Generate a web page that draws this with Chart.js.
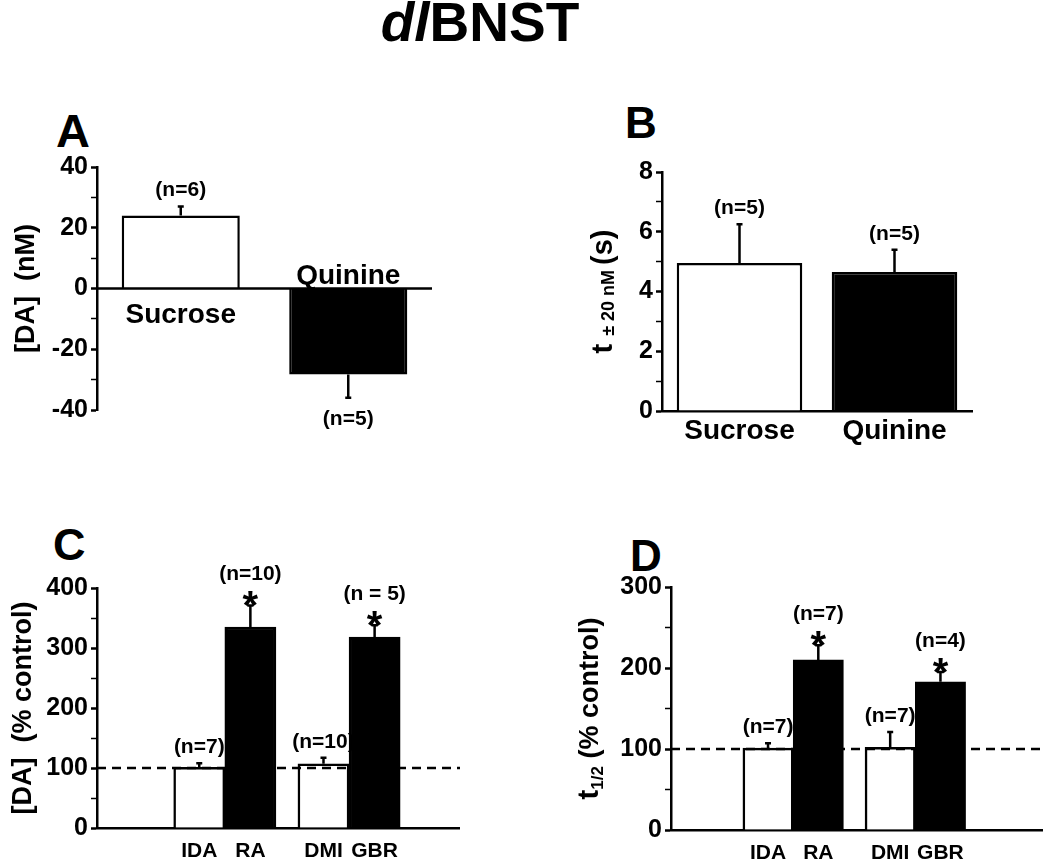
<!DOCTYPE html>
<html>
<head>
<meta charset="utf-8">
<title>dlBNST</title>
<script src="https://cdn.jsdelivr.net/npm/chart.js@4.4.1/dist/chart.umd.min.js"></script>
<style>
  html, body { margin: 0; padding: 0; background: #fff; }
  body { position: relative; width: 1050px; height: 863px; overflow: hidden;
         font-family: "Liberation Sans", Arial, sans-serif; font-weight: bold; color: #000; }
  canvas, .tag { position: absolute; }
  .tag { line-height: 1; }
  #title { position: absolute; left: 0; top: -5px; width: 960px; text-align: center;
           font-size: 55px; line-height: 1; }
</style>
</head>
<body>
<div id="title"><i>dl</i>BNST</div>
<div class="tag" style="left:56px;top:107px;font-size:47px">A</div>
<div class="tag" style="left:625px;top:101px;font-size:44px">B</div>
<div class="tag" style="left:53px;top:522px;font-size:45px">C</div>
<div class="tag" style="left:630px;top:534px;font-size:44px">D</div>
<canvas id="chartA" width="460" height="340" style="left:0;top:100px"></canvas>
<canvas id="chartB" width="530" height="350" style="left:520px;top:100px"></canvas>
<canvas id="chartC" width="460" height="363" style="left:0;top:500px"></canvas>
<canvas id="chartD" width="530" height="363" style="left:520px;top:500px"></canvas>
<script>
// Panel A - peak [DA] change
const tasteCats = ['Sucrose', 'Quinine'];
const daPeak = [24, -28.3];
const daPeakErr = [3, 7.7];
const daPeakN = ['(n=6)', '(n=5)'];

// Panel B - time spent beyond +/- 20 nM
const tHold = [4.95, 4.65];
const tHoldErr = [1.3, 0.75];
const tHoldN = ['(n=5)', '(n=5)'];

// Panels C and D - drug effects, % of control
const drugCats = ['IDA', 'RA', 'DMI', 'GBR'];
const daDrug = [101, 335, 107, 318];
const daDrugErr = [7, 36, 10, 20];
const daDrugN = ['(n=7)', '(n=10)', '(n=10)', '(n = 5)'];
const daDrugSig = [false, true, false, true];

const halfLife = [101, 210, 102, 183];
const halfLifeErr = [6, 18, 19, 12];
const halfLifeN = ['(n=7)', '(n=7)', '(n=7)', '(n=4)'];
const halfLifeSig = [false, true, false, true];

// bars come in pairs that touch, with a small gap between pairs
const drugX = [2, 3, 4.43, 5.43];

const FONT = '"Liberation Sans", Arial, sans-serif';
Chart.defaults.font.family = FONT;
Chart.defaults.font.weight = 'bold';
Chart.defaults.color = '#000';
Chart.defaults.animation = false;

// error bars, n labels, asterisks, reference line
const barMarks = {
    id: 'barMarks',
    afterDatasetsDraw(chart, args, opts) {
        const ctx = chart.ctx;
        const ds = chart.data.datasets[0];
        const meta = chart.getDatasetMeta(0);
        const yScale = chart.scales.y;
        const area = chart.chartArea;
        ctx.save();
        ctx.strokeStyle = '#000';
        ctx.fillStyle = '#000';
        ctx.lineWidth = 2.5;

        if (opts.refValue !== undefined) {
            const py = yScale.getPixelForValue(opts.refValue);
            ctx.setLineDash(opts.refDash || []);
            ctx.beginPath();
            ctx.moveTo(area.left, py);
            ctx.lineTo(area.right, py);
            ctx.stroke();
            ctx.setLineDash([]);
        }

        ctx.textAlign = 'center';
        ctx.textBaseline = 'alphabetic';
        meta.data.forEach((bar, i) => {
            const v = meta.controller.getParsed(i).y;
            const sign = v >= 0 ? 1 : -1;
            const end = yScale.getPixelForValue(v + sign * ds.errors[i]);
            ctx.beginPath();
            ctx.moveTo(bar.x, bar.y);
            ctx.lineTo(bar.x, end);
            ctx.moveTo(bar.x - 3, end);
            ctx.lineTo(bar.x + 3, end);
            ctx.stroke();

            let nY;
            if (ds.sig && ds.sig[i]) {
                ctx.font = 'bold 40px ' + FONT;
                ctx.fillText('*', bar.x, end - 8 + 22);
                nY = end - 32;
            } else {
                nY = sign > 0 ? end - 17 : end + 20;
            }
            ctx.font = 'bold 21px ' + FONT;
            ctx.fillText(ds.nLabels[i], bar.x, nY + 7);

            if (opts.inlineCats) {
                const zero = yScale.getPixelForValue(0);
                ctx.font = 'bold 28px ' + FONT;
                ctx.fillText(chart.data.labels[i], bar.x, (sign > 0 ? zero + 24 : zero - 15) + 10);
            }
        });
        ctx.restore();
    }
};

// rotated y title made of parts (for subscripts)
const yTitle = {
    id: 'yTitle',
    afterDraw(chart, args, opts) {
        if (!opts.parts) return;
        const ctx = chart.ctx;
        const area = chart.chartArea;
        ctx.save();
        ctx.translate(opts.x, (area.top + area.bottom) / 2);
        ctx.rotate(-Math.PI / 2);
        ctx.fillStyle = '#000';
        ctx.textAlign = 'left';
        ctx.textBaseline = 'alphabetic';
        let total = 0;
        opts.parts.forEach(p => {
            ctx.font = 'bold ' + p.size + 'px ' + FONT;
            total += ctx.measureText(p.text).width;
        });
        let cur = -total / 2;
        opts.parts.forEach(p => {
            ctx.font = 'bold ' + p.size + 'px ' + FONT;
            ctx.fillText(p.text, cur, p.dy || 0);
            cur += ctx.measureText(p.text).width;
        });
        ctx.restore();
    }
};

function yAxis(min, max, minor, major, width) {
    return {
        min: min,
        max: max,
        afterFit: s => { s.width = width; },
        ticks: {
            stepSize: minor,
            autoSkip: false,
            padding: 3,
            color: '#000',
            font: { size: 25, weight: 'bold' },
            callback: v => (v % major === 0 ? v : '')
        },
        grid: {
            drawOnChartArea: false,
            drawTicks: true,
            tickLength: 6,
            tickColor: '#000',
            tickWidth: c => (c.tick && c.tick.value % major === 0 ? 2.5 : 1.5)
        },
        border: { display: true, color: '#000', width: 2.5 }
    };
}

const blackWhite = c => (c.dataIndex % 2 ? '#000' : '#fff');
const baseOpts = { responsive: false, maintainAspectRatio: false };
const noLegend = { legend: { display: false }, tooltip: { enabled: false } };

// A
new Chart(document.getElementById('chartA'), {
    type: 'bar',
    data: {
        labels: tasteCats,
        datasets: [{
            data: daPeak, errors: daPeakErr, nLabels: daPeakN,
            backgroundColor: blackWhite, borderColor: '#000', borderWidth: 2.5,
            barPercentage: 0.705, categoryPercentage: 1
        }]
    },
    options: Object.assign({}, baseOpts, {
        layout: { padding: { left: 0, top: 67, right: 28, bottom: 30 } },
        scales: { x: { display: false }, y: yAxis(-40, 40, 10, 20, 97) },
        plugins: Object.assign({}, noLegend, {
            barMarks: { refValue: 0, refDash: [], inlineCats: true },
            yTitle: { x: 34, parts: [{ text: '[DA]  (nM)', size: 27 }] }
        })
    }),
    plugins: [barMarks, yTitle]
});

// B
new Chart(document.getElementById('chartB'), {
    type: 'bar',
    data: {
        labels: tasteCats,
        datasets: [{
            data: tHold, errors: tHoldErr, nLabels: tHoldN,
            backgroundColor: blackWhite, borderColor: '#000', borderWidth: 2.5,
            barPercentage: 0.81, categoryPercentage: 1
        }]
    },
    options: Object.assign({}, baseOpts, {
        layout: { padding: { left: 0, top: 72, right: 78, bottom: 0 } },
        scales: {
            x: {
                afterFit: s => { s.height = 39; },
                grid: { display: false, drawTicks: false },
                border: { display: true, color: '#000', width: 2.5 },
                ticks: { padding: 3, color: '#000', font: { size: 28, weight: 'bold' } }
            },
            y: yAxis(0, 8, 1, 2, 142)
        },
        plugins: Object.assign({}, noLegend, {
            barMarks: {},
            yTitle: { x: 92, parts: [
                { text: 't ', size: 29 },
                { text: '\u00b1 20 nM ', size: 18, dy: 2 },
                { text: '(s)', size: 29 }
            ] }
        })
    }),
    plugins: [barMarks, yTitle]
});

function drugChart(id, values, errs, ns, sig, pad, yW, xH, xMin, xMax, yMax, title) {
    return new Chart(document.getElementById(id), {
        type: 'bar',
        data: {
            datasets: [{
                data: drugX.map((x, i) => ({ x: x, y: values[i] })),
                errors: errs, nLabels: ns, sig: sig,
                backgroundColor: blackWhite, borderColor: '#000', borderWidth: 2.5,
                barPercentage: 1, categoryPercentage: 1
            }]
        },
        options: Object.assign({}, baseOpts, {
            layout: { padding: pad },
            scales: {
                x: {
                    type: 'linear',
                    min: xMin,
                    max: xMax,
                    offset: false,
                    afterBuildTicks: s => { s.ticks = drugX.map(v => ({ value: v })); },
                    afterFit: s => { s.height = xH; },
                    grid: { display: false, drawTicks: false },
                    border: { display: true, color: '#000', width: 2.5 },
                    ticks: {
                        autoSkip: false, maxRotation: 0, padding: 11, color: '#000',
                        font: { size: 21, weight: 'bold' },
                        callback: (v, i) => drugCats[i]
                    }
                },
                y: yAxis(0, yMax, 50, 100, yW)
            },
            plugins: Object.assign({}, noLegend, {
                barMarks: { refValue: 100, refDash: [9, 6] },
                yTitle: title
            })
        }),
        plugins: [barMarks, yTitle]
    });
}

// C
drugChart('chartC', daDrug, daDrugErr, daDrugN, daDrugSig,
    { left: 0, top: 88, right: 0, bottom: 0 }, 97, 35, 0, 7.1, 400,
    { x: 31, parts: [{ text: '[DA]  (% control)', size: 27 }] });

// D
drugChart('chartD', halfLife, halfLifeErr, halfLifeN, halfLifeSig,
    { left: 0, top: 87, right: 8, bottom: 0 }, 151, 33, 0.07, 7.45, 300,
    { x: 78, parts: [
        { text: 't', size: 29 },
        { text: '1/2', size: 17, dy: 5 },
        { text: ' (% control)', size: 27 }
    ] });
</script>
</body>
</html>
